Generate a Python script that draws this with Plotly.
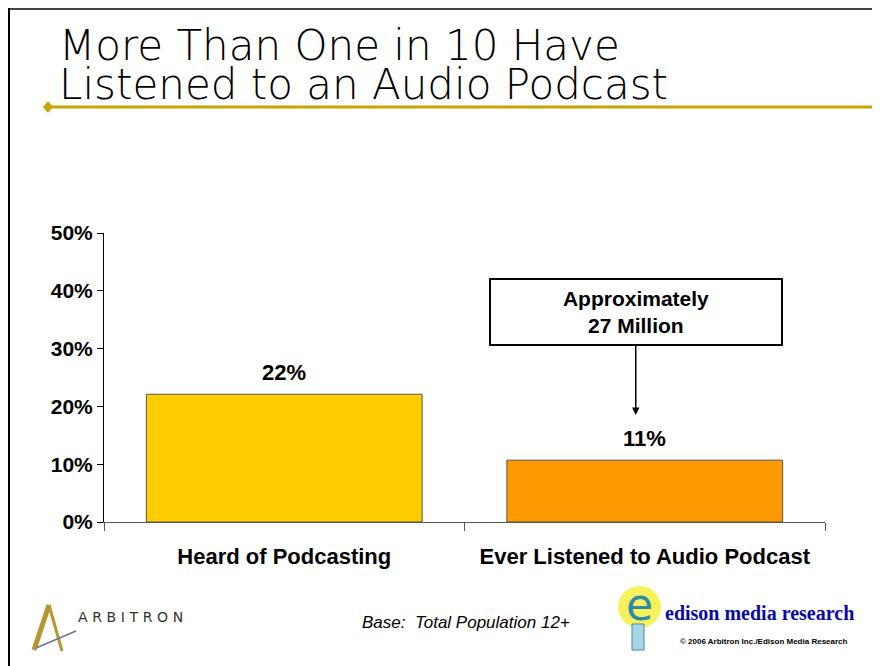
import plotly.graph_objects as go

# data
categories = ["Heard of Podcasting", "Ever Listened to Audio Podcast"]
values = [22.1, 10.7]
value_labels = ["22%", "11%"]
bar_colors = ["#FFCC00", "#FF9900"]
callout_text = "Approximately<br>27 Million"
title_lines = ["More Than One in 10 Have", "Listened to an Audio Podcast"]
base_note = "Base:  Total Population 12+"

# page body adds an 8px offset; positions below are given in screen pixels
OFF = 8
W, H = 880, 666
L, R, T, B = 96, 63, 225, 152
PW, PH = W - L - R, H - T - B


def px(x):
    return (x - OFF - L) / PW


def py(y):
    return (H - B - (y - OFF)) / PH


fig = go.Figure()
fig.add_trace(
    go.Bar(
        x=categories,
        y=values,
        width=0.765,
        marker=dict(color=bar_colors, line=dict(color="#555555", width=1)),
        hoverinfo="skip",
    )
)

fig.update_yaxes(
    range=[0, 50],
    dtick=10,
    ticksuffix="%",
    showgrid=False,
    zeroline=False,
    showline=True,
    linecolor="black",
    linewidth=1,
    ticks="outside",
    ticklen=6,
    tickcolor="black",
    tickfont=dict(family="Arial, Liberation Sans", size=21, color="black", weight="bold"),
)
fig.update_xaxes(
    showgrid=False,
    showline=True,
    linecolor="#555555",
    linewidth=1,
    ticks="outside",
    tickson="boundaries",
    ticklen=8,
    tickcolor="#555555",
    ticklabelstandoff=15,
    tickfont=dict(family="Arial, Liberation Sans", size=22, color="black", weight="bold"),
)

shapes = [
    # slide border
    dict(type="line", xref="paper", yref="paper", x0=px(8), x1=px(880), y0=py(9), y1=py(9),
         line=dict(color="#444444", width=2)),
    dict(type="line", xref="paper", yref="paper", x0=px(9), x1=px(9), y0=py(8), y1=py(666),
         line=dict(color="black", width=2)),
    # gold rule under title
    dict(type="line", xref="paper", yref="paper", x0=px(48), x1=px(880), y0=py(107), y1=py(107),
         line=dict(color="#C8A400", width=3)),
    dict(type="path", xref="paper", yref="paper",
         path=f"M {px(43)} {py(107)} L {px(48)} {py(101)} L {px(53)} {py(107)} L {px(48)} {py(113)} Z",
         fillcolor="#C8A400", line=dict(width=0)),
    # arbitron logo mark
    dict(type="path", xref="paper", yref="paper",
         path=f"M {px(34)} {py(650)} L {px(49)} {py(605)}",
         line=dict(color="#B8962E", width=5)),
    dict(type="path", xref="paper", yref="paper",
         path=f"M {px(49)} {py(605)} L {px(62)} {py(651)}",
         line=dict(color="#B8962E", width=3)),
    dict(type="path", xref="paper", yref="paper",
         path=f"M {px(36)} {py(648)} L {px(76)} {py(631)}",
         line=dict(color="#6E72A0", width=1.5)),
    # edison bulb
    dict(type="circle", xref="paper", yref="paper",
         x0=px(618), x1=px(661), y0=py(586), y1=py(628),
         fillcolor="#F7F25A", line=dict(width=0)),
    dict(type="rect", xref="paper", yref="paper",
         x0=px(632), x1=px(644), y0=py(624), y1=py(650),
         fillcolor="#A8D4E4", line=dict(color="#3A8FB0", width=1)),
]

annotations = [
    dict(xref="paper", yref="paper", x=px(57), y=py(45), text=title_lines[0],
         showarrow=False, xanchor="left", yanchor="middle",
         font=dict(family="DejaVu Sans", size=42, color="black", weight=200)),
    dict(xref="paper", yref="paper", x=px(57), y=py(85), text=title_lines[1],
         showarrow=False, xanchor="left", yanchor="middle",
         font=dict(family="DejaVu Sans", size=42, color="black", weight=200)),
    # callout with arrow
    dict(x=categories[1], y=18.5, xref="x", yref="y", xshift=-9,
         ax=0, ay=36.3, axref="pixel", ayref="y",
         text="<b>" + callout_text + "</b>",
         showarrow=True, arrowhead=2, arrowsize=1, arrowwidth=1.5, arrowcolor="black",
         bordercolor="black", borderwidth=2, bgcolor="white",
         width=288, height=62,
         font=dict(family="Arial, Liberation Sans", size=21, color="black")),
    dict(xref="paper", yref="paper", x=px(466), y=py(622), text="<i>" + base_note + "</i>",
         showarrow=False, xanchor="center", yanchor="middle",
         font=dict(family="Arial, Liberation Sans", size=17, color="black")),
    dict(xref="paper", yref="paper", x=px(76), y=py(617),
         text="\u2004".join("ARBITRON"),
         showarrow=False, xanchor="left", yanchor="middle",
         font=dict(family="DejaVu Sans, Arial", size=14, color="#333333")),
    dict(xref="paper", yref="paper", x=px(639), y=py(604), text="e",
         showarrow=False, xanchor="center", yanchor="middle",
         font=dict(family="DejaVu Sans", size=44, color="#2E8AA8")),
    dict(xref="paper", yref="paper", x=px(663), y=py(613), text="<b>edison media research</b>",
         showarrow=False, xanchor="left", yanchor="middle",
         font=dict(family="Liberation Serif, Times New Roman", size=20, color="#0A0AA8")),
    dict(xref="paper", yref="paper", x=px(850), y=py(641),
         text="<b>© 2006 Arbitron Inc./Edison Media Research</b>",
         showarrow=False, xanchor="right", yanchor="middle",
         font=dict(family="Arial, Liberation Sans", size=8, color="black")),
]

# value labels above bars
for cat, v, lab in zip(categories, values, value_labels):
    annotations.append(
        dict(x=cat, y=v, xref="x", yref="y", text="<b>" + lab + "</b>",
             showarrow=False, yanchor="bottom", yshift=7,
             font=dict(family="Arial, Liberation Sans", size=22, color="black"))
    )

fig.update_layout(
    width=W,
    height=H,
    margin=dict(l=L, r=R, t=T, b=B),
    plot_bgcolor="white",
    paper_bgcolor="white",
    showlegend=False,
    bargap=0.25,
    shapes=shapes,
    annotations=annotations,
)

fig.write_html("out.html")
